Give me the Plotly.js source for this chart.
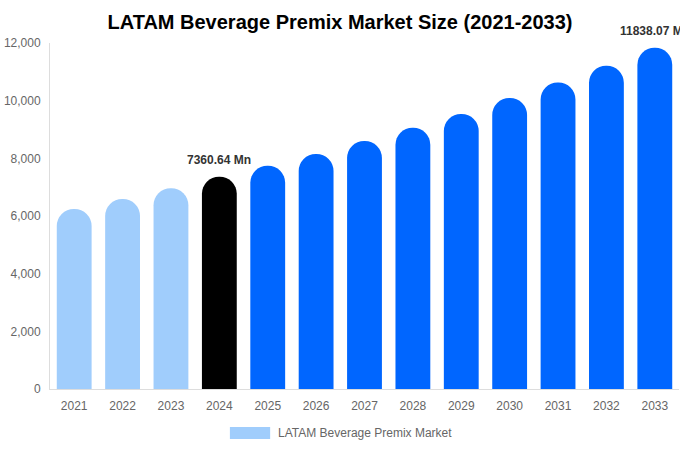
<!DOCTYPE html>
<html>
<head>
<meta charset="utf-8">
<script src="https://cdn.plot.ly/plotly-3.0.1.min.js"></script>
<style>
  html, body { margin: 0; padding: 0; background: #fff; }
  #chart { width: 680px; height: 450px; }
</style>
</head>
<body>
<div id="chart"></div>
<script>
// years and market size (USD Mn)
const years = ['2021', '2022', '2023', '2024', '2025', '2026', '2027', '2028', '2029', '2030', '2031', '2032', '2033'];
const marketSize = [6240, 6590, 6960, 7360.64, 7740, 8150, 8600, 9060, 9540, 10090, 10630, 11210, 11838.07];
const yTicks = [0, 2000, 4000, 6000, 8000, 10000, 12000];
const labelledYears = ['2024', '2033'];
const seriesName = 'LATAM Beverage Premix Market';

// past years light blue, base year black, forecast blue
const barColors = years.map(y => {
  if (+y < 2024) return '#a0cdfc';
  if (+y === 2024) return '#000000';
  return '#0066ff';
});

const trace = {
  type: 'bar',
  x: years,
  y: marketSize,
  name: seriesName,
  marker: { color: barColors, cornerradius: '50%' },
  hoverinfo: 'x+y',
  showlegend: false
};

const font = 'Liberation Sans, Arial, sans-serif';

// value labels: use category index so the year isn't read as a number
const annotations = labelledYears.map(yr => {
  const i = years.indexOf(yr);
  return {
    x: i, y: marketSize[i], xref: 'x', yref: 'y',
    text: marketSize[i].toFixed(2) + ' Mn',
    showarrow: false, yanchor: 'bottom', yshift: 8,
    font: { family: font, size: 12, color: '#333', weight: 'bold' }
  };
});

// legend drawn by hand so the swatch is wide like the original
annotations.push({
  x: 0.359, y: -0.127, xref: 'paper', yref: 'paper', xanchor: 'left', yanchor: 'middle',
  text: seriesName, showarrow: false, font: { family: font, size: 12, color: '#666' }
});
const shapes = [{
  type: 'rect', xref: 'paper', yref: 'paper',
  x0: 0.286, x1: 0.350, y0: -0.1445, y1: -0.1098,
  fillcolor: '#a0cdfc', line: { width: 0 }
}];

const layout = {
  width: 680, height: 450,
  margin: { l: 50, r: 1, t: 43, b: 61, autoexpand: false },
  paper_bgcolor: '#fff', plot_bgcolor: '#fff',
  font: { family: font, size: 12, color: '#666' },
  title: {
    text: '<b>LATAM Beverage Premix Market Size (2021-2033)</b>',
    x: 0.5, xanchor: 'center', y: 0.951, yanchor: 'middle',
    font: { size: 20, color: '#000' }
  },
  bargap: 0.28,
  xaxis: {
    type: 'category', range: [-0.5, years.length - 0.5], // fixed so labels don't widen it
    showgrid: false, showline: true, linecolor: '#ddd', linewidth: 1,
    ticks: '', ticklabelstandoff: 6, tickfont: { size: 12, color: '#666' }
  },
  yaxis: {
    range: [0, 12000], tickvals: yTicks, tickformat: ',d', showgrid: false, zeroline: false,
    showline: true, linecolor: '#ddd', linewidth: 1, ticks: '', ticklabelstandoff: 6,
    tickfont: { size: 12, color: '#666' }
  },
  annotations: annotations,
  shapes: shapes,
  showlegend: false
};

Plotly.newPlot('chart', [trace], layout, { displayModeBar: false, responsive: false });
</script>
</body>
</html>
